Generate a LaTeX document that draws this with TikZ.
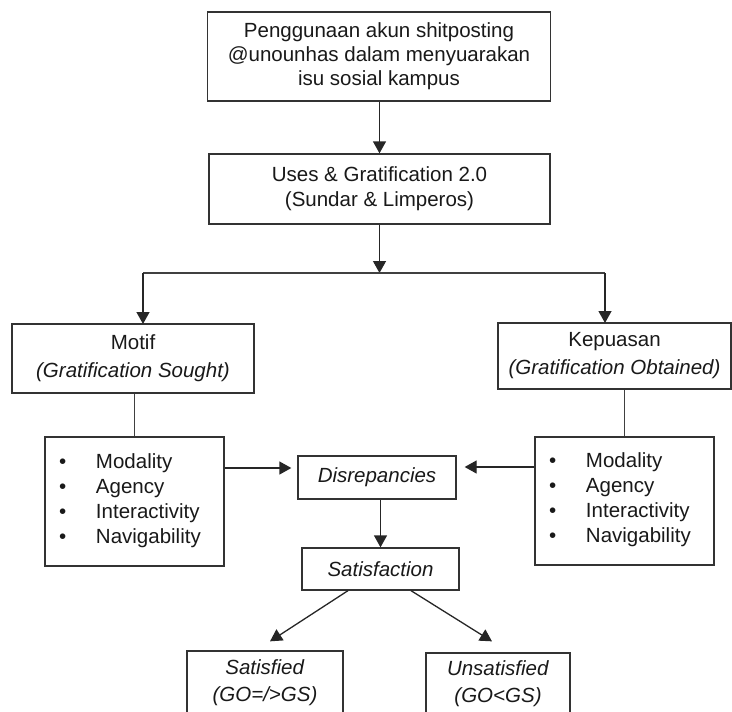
\documentclass[tikz,border=0pt]{standalone}
\usepackage{fontspec}
\setmainfont{Liberation Sans}
\usetikzlibrary{arrows.meta}
\begin{document}
\begin{tikzpicture}[x=1pt,y=-1pt,
  box/.style={draw=black!80, line width=1.3pt, fill=white, align=center, inner sep=0pt,
    font=\fontsize{20.5}{24}\selectfont, text=black!90},
  listbox/.style={box, align=left, text width=151pt, inner xsep=14pt, inner ysep=0pt,
    font=\fontsize{20.5}{25}\selectfont},
  arr/.style={-{Triangle[width=13pt,length=12pt]}, draw=black!85, line width=1.3pt},
  ln/.style={draw=black!75, line width=1.3pt}]
\useasboundingbox (0,0) rectangle (732,712);
\newcommand{\bul}{\makebox[37pt][l]{\textbullet}}

\node[box, minimum width=343pt, minimum height=89pt] (top) at (379,56.5)
  {Penggunaan akun shitposting\\@unounhas dalam menyuarakan\\isu sosial kampus};
\node[box, minimum width=341pt, minimum height=70pt] (ug) at (379.5,189)
  {Uses \& Gratification 2.0\\[1pt](Sundar \& Limperos)};
\node[box, minimum width=242pt, minimum height=69pt] (motif) at (133,358.5)
  {Motif\\[4pt]\textit{(Gratification Sought)}};
\node[box, minimum width=233pt, minimum height=66pt] (kep) at (614.5,356)
  {Kepuasan\\[4pt]\textit{(Gratification Obtained)}};
\node[listbox, minimum height=129pt] (lb) at (134.5,501.5)
  {\bul Modality\\\bul Agency\\\bul Interactivity\\\bul Navigability\\[-19pt]\mbox{}};
\node[listbox, minimum height=128pt] (rb) at (624.5,501)
  {\bul Modality\\\bul Agency\\\bul Interactivity\\\bul Navigability\\[-19pt]\mbox{}};
\node[box, minimum width=158pt, minimum height=43pt] (dis) at (377,477.5)
  {\textit{Disrepancies}};
\node[box, minimum width=157pt, minimum height=42pt] (sat) at (380.5,569)
  {\textit{Satisfaction}};
\node[box, minimum width=156pt, minimum height=63pt, font=\fontsize{20.5}{27}\selectfont] (ok) at (265,682.5)
  {\textit{Satisfied}\\\textit{(GO=/>GS)}};
\node[box, minimum width=144pt, minimum height=62pt, font=\fontsize{20.5}{27}\selectfont] (no) at (498,684)
  {\textit{Unsatisfied}\\\textit{(GO<GS)}};

% connectors
\draw[arr] (top.south -| ug.north) -- (ug.north);
\coordinate (j) at (379.5,273);
\coordinate (mt) at (143,324);
\coordinate (kt) at (605,323);
\draw[arr] (ug.south) -- (j);
\draw[ln] (mt |- j) -- (kt |- j);
\draw[arr] (mt |- j) -- (mt);
\draw[arr] (kt |- j) -- (kt);
\draw[ln] (motif.south -| lb.north) -- (lb.north);
\draw[ln] (kep.south -| rb.north) -- (rb.north);
\coordinate (dl) at ([yshift=9.5pt]dis.west);
\coordinate (dr) at ([yshift=10.5pt]dis.east);
\draw[arr, shorten >=6pt] (lb.east |- dl) -- (dl);
\draw[arr, shorten >=8pt] (rb.west |- dr) -- (dr);
\draw[arr] (dis.south -| sat.north) -- (sat.north);
\draw[arr] ([xshift=-32.5pt]sat.south) -- ([xshift=5pt,yshift=9pt]ok.north);
\draw[arr] ([xshift=30.5pt]sat.south) -- ([xshift=-6pt,yshift=11pt]no.north);
\end{tikzpicture}
\end{document}
